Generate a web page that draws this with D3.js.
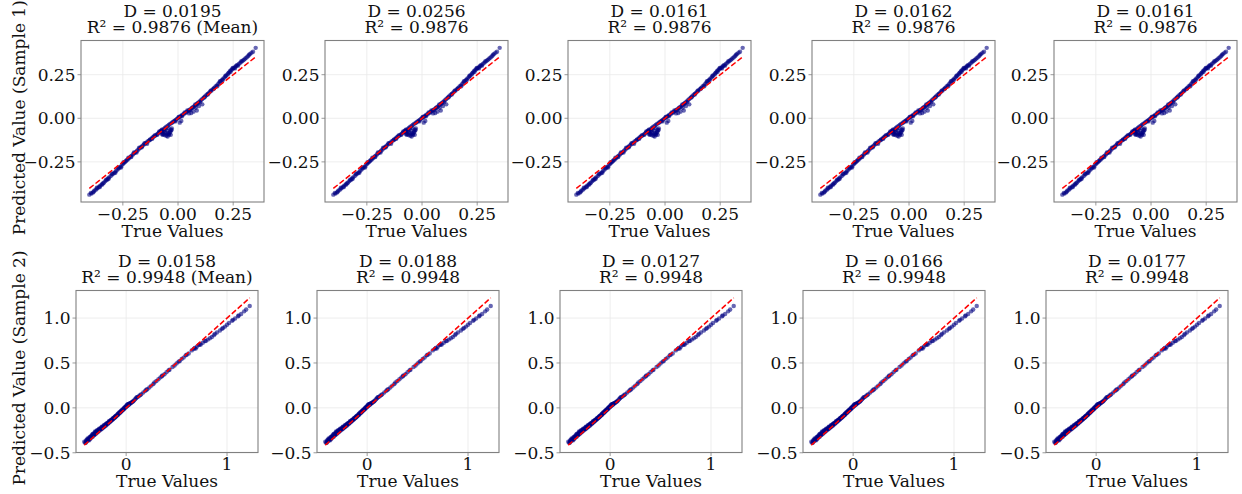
<!DOCTYPE html>
<html>
<head>
<meta charset="utf-8">
<title>Predicted vs True</title>
<style>
    body { margin: 0; background: #fff; }
    text { font-family: "DejaVu Serif", serif; fill: #111; }
</style>
</head>
<body>
<div class="plot_container"></div>
<script src="https://cdn.jsdelivr.net/npm/d3@7/dist/d3.min.js"></script>
<script>
// titles
var d_sample1 = ["0.0195", "0.0256", "0.0161", "0.0162", "0.0161"];
var d_sample2 = ["0.0158", "0.0188", "0.0127", "0.0166", "0.0177"];
var r2_sample1 = "0.9876";
var r2_sample2 = "0.9948";

// tick labels
var ticks1_x = [-0.25, 0, 0.25];
var ticks1_y = [-0.25, 0, 0.25];
var ticks2_x = [0, 1];
var ticks2_y = [-0.5, 0, 0.5, 1.0];

// sample 1 points (same cloud in every column)
var sample1_true = [
    -0.402,-0.392,-0.385,-0.378,-0.371,-0.365,-0.358,-0.352,-0.346,-0.340,-0.335,-0.329,-0.322,-0.318,-0.312,-0.305,-0.298,-0.292,-0.287,-0.280,
    -0.274,-0.268,-0.262,-0.256,-0.250,-0.245,-0.240,-0.233,-0.228,-0.222,-0.215,-0.210,-0.204,-0.198,-0.192,-0.186,-0.180,-0.174,-0.168,-0.162,
    -0.156,-0.150,-0.144,-0.138,-0.132,-0.126,-0.120,-0.115,-0.110,-0.104,-0.098,-0.092,-0.087,-0.082,-0.077,-0.072,
    -0.072,-0.066,-0.061,-0.057,-0.053,-0.049,-0.045,-0.041,-0.062,-0.068,-0.050,-0.036,-0.032,-0.058,-0.070,-0.044,-0.028,
    -0.066,-0.060,-0.054,-0.048,-0.042,-0.036,-0.030,-0.025,-0.020,-0.015,-0.010,-0.005,0.000,0.005,0.010,0.015,0.020,0.026,0.032,0.038,
    0.044,0.050,0.056,0.062,0.068,0.074,0.080,0.086,0.092,0.098,
    0.008,0.015,0.060,0.070,0.080,0.085,0.050,0.110,
    0.104,0.110,0.116,0.122,0.128,0.134,0.140,0.146,0.152,0.158,0.164,0.170,0.176,0.182,0.188,0.194,0.200,0.206,0.212,0.218,
    0.224,0.230,0.235,0.240,0.245,0.250,0.255,0.260,0.268,0.275,0.282,0.290,0.296,0.301,0.312,0.318,0.326,0.340,0.352,
    -0.395,-0.382,-0.368,-0.355,-0.343,-0.326,-0.315,-0.300,-0.284,-0.270,-0.258,-0.247,-0.236,-0.225,-0.212,-0.200,-0.188,-0.176,-0.164,-0.152,
    -0.140,-0.128,-0.117,-0.106,-0.094,-0.085,-0.075,-0.074,-0.035,-0.030,-0.040,-0.033,-0.072,-0.047,
    -0.012,0.003,0.018,0.030,0.042,0.055,0.065,0.078,0.090,0.100,0.095,0.120,0.135,0.148,0.162,0.178,0.190,0.203,0.215,0.228,
    0.238,0.248,0.258,0.264,0.272,0.286,0.306,0.322,0.333
];
var sample1_pred = [
    -0.438,-0.432,-0.425,-0.414,-0.408,-0.401,-0.392,-0.386,-0.379,-0.372,-0.368,-0.360,-0.353,-0.345,-0.339,-0.331,-0.322,-0.316,-0.310,-0.301,
    -0.294,-0.287,-0.280,-0.272,-0.262,-0.257,-0.250,-0.241,-0.236,-0.229,-0.220,-0.214,-0.207,-0.200,-0.194,-0.186,-0.180,-0.172,-0.166,-0.159,
    -0.152,-0.146,-0.140,-0.133,-0.128,-0.121,-0.116,-0.110,-0.105,-0.100,-0.094,-0.088,-0.083,-0.077,-0.073,-0.068,
    -0.082,-0.090,-0.096,-0.086,-0.100,-0.092,-0.084,-0.094,-0.076,-0.072,-0.070,-0.080,-0.066,-0.064,-0.095,-0.056,-0.058,
    -0.062,-0.056,-0.050,-0.044,-0.038,-0.032,-0.028,-0.023,-0.018,-0.014,-0.009,-0.004,0.001,0.006,0.010,0.015,0.020,0.024,0.030,0.035,
    0.040,0.046,0.052,0.058,0.064,0.070,0.076,0.083,0.090,0.097,
    -0.025,-0.015,0.030,0.038,0.060,0.045,0.028,0.080,
    0.104,0.111,0.118,0.125,0.132,0.139,0.146,0.153,0.160,0.167,0.174,0.182,0.189,0.197,0.205,0.213,0.222,0.229,0.236,0.244,
    0.251,0.262,0.270,0.276,0.281,0.286,0.290,0.296,0.304,0.311,0.318,0.327,0.333,0.338,0.350,0.357,0.368,0.382,0.404,
    -0.428,-0.420,-0.398,-0.395,-0.380,-0.352,-0.348,-0.318,-0.312,-0.282,-0.282,-0.252,-0.245,-0.226,-0.222,-0.196,-0.196,-0.168,-0.166,-0.143,
    -0.146,-0.124,-0.118,-0.098,-0.095,-0.076,-0.074,-0.066,-0.075,-0.068,-0.088,-0.095,-0.090,-0.105,
    -0.018,0.008,0.012,0.034,0.045,0.048,0.060,0.080,0.085,0.092,0.070,0.120,0.136,0.158,0.170,0.184,0.212,0.219,0.244,0.257,
    0.266,0.289,0.286,0.302,0.302,0.326,0.344,0.364,0.376
];

// sample 2 points
var sample2_true = [
    -0.415,-0.400,-0.395,-0.388,-0.382,-0.376,-0.370,-0.365,-0.360,-0.354,-0.350,-0.345,-0.340,-0.335,-0.330,-0.325,-0.320,-0.315,-0.310,-0.305,
    -0.300,-0.295,-0.290,-0.285,-0.280,-0.275,-0.270,-0.265,-0.260,-0.255,-0.250,-0.245,-0.240,-0.235,-0.230,-0.225,-0.220,-0.215,-0.210,-0.205,
    -0.200,-0.195,-0.190,-0.185,-0.180,-0.175,-0.170,-0.165,-0.160,-0.155,-0.150,-0.145,-0.140,-0.135,-0.130,-0.125,-0.120,-0.115,-0.110,-0.105,
    -0.100,-0.095,-0.090,-0.085,-0.080,-0.075,-0.070,-0.065,-0.060,-0.055,-0.050,-0.045,-0.040,-0.035,-0.030,-0.025,-0.020,-0.015,-0.010,-0.005,
    0.000,0.005,0.010,0.015,0.020,0.025,0.030,0.040,0.050,0.060,0.070,
    0.080,0.090,0.100,0.115,0.130,0.150,0.170,0.190,0.210,0.230,0.250,0.270,0.300,0.320,0.340,0.355,0.380,0.400,0.430,0.460,
    0.480,0.500,0.530,0.550,0.570,0.590,0.620,0.650,0.670,0.690,0.720,0.740,0.760,0.790,0.810,0.830,0.850,0.870,0.900,0.930,
    0.960,0.980,1.000,1.020,1.050,1.080,1.110,1.140,1.170,1.225,
    -0.405,-0.398,-0.385,-0.373,-0.362,-0.356,-0.342,-0.332,-0.318,-0.308,-0.298,-0.288,-0.278,-0.268,-0.252,-0.242,-0.228,-0.218,-0.202,-0.192,
    -0.178,-0.168,-0.152,-0.142,-0.128,-0.112,-0.098,-0.082,-0.068,-0.052,-0.038,-0.022,-0.008,0.008,0.022,0.035,0.045,0.065,0.105,0.140,
    0.200,0.280,0.360,0.420,0.520,0.600,0.680,0.700,0.730,0.780,0.880,0.950,1.060,1.115,1.190
];
var sample2_pred = [
    -0.378,-0.385,-0.360,-0.372,-0.340,-0.355,-0.362,-0.330,-0.345,-0.320,-0.338,-0.310,-0.325,-0.300,-0.318,-0.292,-0.305,-0.280,-0.296,-0.272,
    -0.288,-0.262,-0.278,-0.255,-0.268,-0.246,-0.258,-0.238,-0.250,-0.228,-0.240,-0.220,-0.232,-0.212,-0.222,-0.204,-0.214,-0.196,-0.205,-0.188,
    -0.196,-0.180,-0.186,-0.170,-0.176,-0.160,-0.165,-0.150,-0.156,-0.142,-0.146,-0.135,-0.136,-0.124,-0.126,-0.115,-0.116,-0.105,-0.106,-0.094,
    -0.096,-0.084,-0.086,-0.074,-0.076,-0.064,-0.062,-0.052,-0.054,-0.040,-0.044,-0.030,-0.032,-0.018,-0.022,-0.008,-0.012,0.004,0.000,0.015,
    0.010,0.030,0.020,0.040,0.030,0.045,0.038,0.050,0.058,0.066,0.075,
    0.085,0.098,0.110,0.122,0.135,0.152,0.172,0.190,0.208,0.228,0.248,0.266,0.300,0.318,0.340,0.352,0.375,0.398,0.425,0.455,
    0.472,0.495,0.520,0.545,0.560,0.585,0.605,0.640,0.655,0.660,0.700,0.705,0.725,0.745,0.760,0.775,0.790,0.810,0.840,0.862,
    0.890,0.905,0.925,0.945,0.970,0.995,1.020,1.045,1.075,1.135,
    -0.390,-0.372,-0.352,-0.345,-0.352,-0.328,-0.318,-0.290,-0.298,-0.262,-0.275,-0.250,-0.260,-0.232,-0.235,-0.210,-0.215,-0.190,-0.182,-0.172,
    -0.165,-0.145,-0.138,-0.128,-0.112,-0.098,-0.086,-0.066,-0.050,-0.036,-0.024,-0.004,0.008,0.026,0.040,0.048,0.055,0.070,0.118,0.142,
    0.202,0.282,0.362,0.418,0.515,0.592,0.668,0.680,0.705,0.745,0.824,0.880,0.980,1.028,1.095
];

var width = 1242;
var height = 494;

var svg = d3.select(".plot_container").append("svg")
    .attr("width", width)
    .attr("height", height);

var rows = [
    {
        lefts: [81, 325, 568, 812, 1054], top: 40.5, w: 183, h: 161.5,
        xs: sample1_true, ys: sample1_pred, d: d_sample1, r2: r2_sample1,
        xticks: ticks1_x, yticks: ticks1_y, xfmt: d3.format(".2f"), yfmt: d3.format(".2f"),
        ylabel: "Predicted Value (Sample 1)"
    },
    {
        lefts: [76, 317, 560, 803, 1046], top: 290.5, w: 182, h: 162,
        xs: sample2_true, ys: sample2_pred, d: d_sample2, r2: r2_sample2,
        xticks: ticks2_x, yticks: ticks2_y, xfmt: d3.format("d"), yfmt: d3.format(".1f"),
        ylabel: "Predicted Value (Sample 2)"
    }
];

function padded(lo, hi) {
    var p = (hi - lo) * 0.05;
    return [lo - p, hi + p];
}

rows.forEach(function(row) {
    var points = row.xs.map(function(v, i) { return {t: v, p: row.ys[i]}; });
    var lo = d3.min(row.xs), hi = d3.max(row.xs);
    var line_data = [[lo, lo], [hi, hi]];

    row.lefts.forEach(function(left, col) {
        var x = d3.scaleLinear().domain(padded(lo, hi)).range([left, left + row.w]);
        var ylo = Math.min(lo, d3.min(row.ys)), yhi = Math.max(hi, d3.max(row.ys));
        var y = d3.scaleLinear().domain(padded(ylo, yhi)).range([row.top + row.h, row.top]);
        var g = svg.append("g");

        // grid
        g.selectAll(".gx").data(row.xticks).enter().append("line")
            .attr("x1", function(d) { return x(d); })
            .attr("x2", function(d) { return x(d); })
            .attr("y1", row.top).attr("y2", row.top + row.h)
            .attr("stroke", "#e8e8e8").attr("stroke-width", 0.8);
        g.selectAll(".gy").data(row.yticks).enter().append("line")
            .attr("y1", function(d) { return y(d); })
            .attr("y2", function(d) { return y(d); })
            .attr("x1", left).attr("x2", left + row.w)
            .attr("stroke", "#e8e8e8").attr("stroke-width", 0.8);

        // points
        g.selectAll(".pt").data(points).enter().append("circle")
            .attr("cx", function(d) { return x(d.t); })
            .attr("cy", function(d) { return y(d.p); })
            .attr("r", 2.2)
            .attr("fill", "#000080")
            .attr("fill-opacity", 0.6);

        // y = x reference
        g.append("path")
            .datum(line_data)
            .attr("d", d3.line().x(function(d) { return x(d[0]); }).y(function(d) { return y(d[1]); }))
            .attr("fill", "none")
            .attr("stroke", "red")
            .attr("stroke-width", 1.5)
            .attr("stroke-dasharray", "5.5,2.4");

        // frame
        g.append("rect")
            .attr("x", left).attr("y", row.top)
            .attr("width", row.w).attr("height", row.h)
            .attr("fill", "none").attr("stroke", "#808080").attr("stroke-width", 1.1);

        // ticks + labels
        g.selectAll(".tx").data(row.xticks).enter().append("line")
            .attr("x1", function(d) { return x(d); })
            .attr("x2", function(d) { return x(d); })
            .attr("y1", row.top + row.h).attr("y2", row.top + row.h + 3.5)
            .attr("stroke", "#808080").attr("stroke-width", 0.8);
        g.selectAll(".lx").data(row.xticks).enter().append("text")
            .attr("x", function(d) { return x(d); })
            .attr("y", row.top + row.h + 17.5)
            .attr("text-anchor", "middle")
            .attr("font-size", "17px")
            .text(function(d) { return row.xfmt(d); });
        g.selectAll(".ty").data(row.yticks).enter().append("line")
            .attr("y1", function(d) { return y(d); })
            .attr("y2", function(d) { return y(d); })
            .attr("x1", left - 3.5).attr("x2", left)
            .attr("stroke", "#808080").attr("stroke-width", 0.8);
        g.selectAll(".ly").data(row.yticks).enter().append("text")
            .attr("x", left - 5.5)
            .attr("y", function(d) { return y(d) + 6; })
            .attr("text-anchor", "end")
            .attr("font-size", "17px")
            .text(function(d) { return row.yfmt(d); });

        // x label
        g.append("text")
            .attr("x", left + row.w / 2)
            .attr("y", row.top + row.h + 34.5)
            .attr("text-anchor", "middle")
            .attr("font-size", "17px")
            .text("True Values");

        // title
        g.append("text")
            .attr("x", left + row.w / 2)
            .attr("y", row.top - 24)
            .attr("text-anchor", "middle")
            .attr("font-size", "17px")
            .text("D = " + row.d[col]);
        g.append("text")
            .attr("x", left + row.w / 2)
            .attr("y", row.top - 7.5)
            .attr("text-anchor", "middle")
            .attr("font-size", "17px")
            .text("R\u00b2 = " + row.r2 + (col == 0 ? " (Mean)" : ""));

        if (col == 0) {
            g.append("text")
                .attr("transform", "translate(25," + (row.top + row.h / 2 - 3.5) + ") rotate(-90)")
                .attr("text-anchor", "middle")
                .attr("font-size", "17px")
                .text(row.ylabel);
        }
    });
});
</script>
</body>
</html>
